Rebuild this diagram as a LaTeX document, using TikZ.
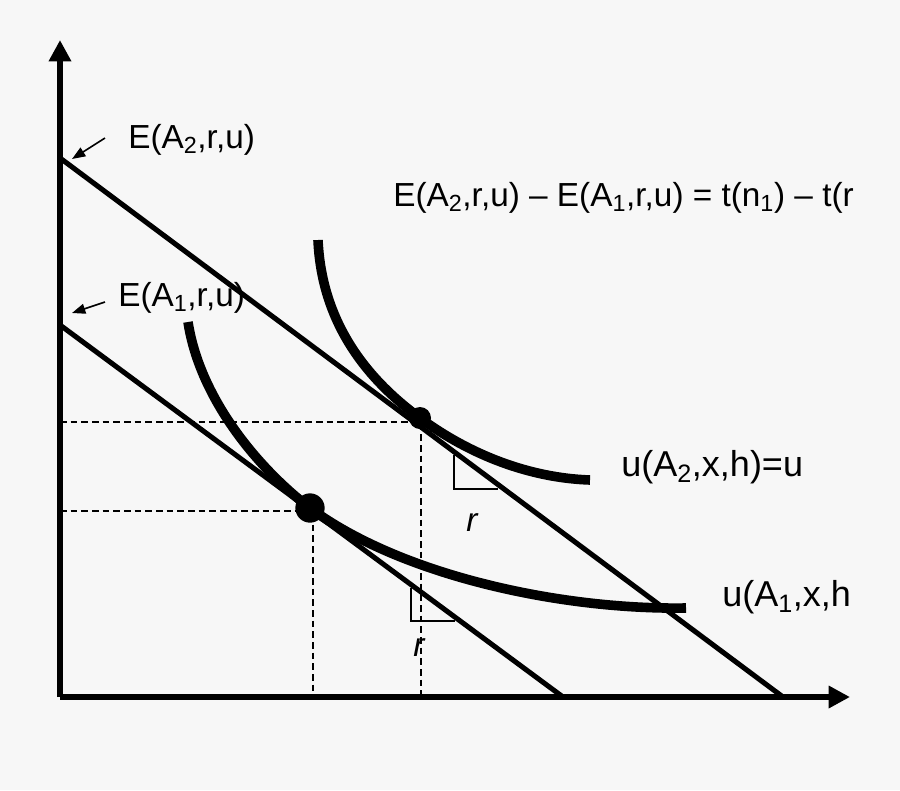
\documentclass[tikz,border=0pt]{standalone}
\usepackage{fontspec}
\setmainfont{Liberation Sans}
\usetikzlibrary{arrows.meta}
\definecolor{bgc}{HTML}{F7F7F7}
\begin{document}
\begin{tikzpicture}[x=0.75pt,y=-0.75pt,
  axis/.style={line width=4.8pt,-{Triangle[length=16pt,width=16pt]}},
  budget/.style={line width=3.8pt},
  indiff/.style={line width=7.2pt},
  guide/.style={line width=1.1pt,dash pattern=on 5pt off 3pt},
  rangle/.style={line width=1.2pt},
  pointer/.style={line width=1.2pt,-{Triangle[length=10pt,width=7.5pt]}},
  lbl/.style={font=\fontsize{25}{28}\selectfont,inner sep=0pt},
  ulbl/.style={font=\fontsize{27}{30}\selectfont,inner sep=0pt},
  rlbl/.style={font=\fontsize{25}{28}\selectfont\itshape,inner sep=0pt},
  dot/.style={circle,fill=black,inner sep=0pt}]
\fill[bgc] (0,0) rectangle (900,790);
\useasboundingbox (0,0) rectangle (900,790);
% coordinates
\coordinate (O) at (60,697);
\coordinate (ytop) at (60,40);
\coordinate (xend) at (850,697);
\coordinate (y2) at (60,158);
\coordinate (x2) at (783,697);
\coordinate (y1) at (60,325);
\coordinate (x1) at (563,697);
% budget lines
\draw[budget] (y2) -- (x2);
\draw[budget] (y1) -- (x1);
% axes
\draw[axis] (O) -- (ytop);
\draw[axis] (O) -- (xend);
% tangency points and dashed guides
\node[dot,minimum size=16.5pt] (d2) at (420,418) {};
\node[dot,minimum size=22pt] (d1) at (310,508) {};
\draw[guide] (60,422) -- (421,422) -- (421,697);
\draw[guide] (60,511) -- (313,511) -- (313,697);
% indifference curves
\draw[indiff] (318,240) .. controls (322,330) and (375,385) .. (d2.center)
  .. controls (470,455) and (530,478) .. (590,480);
\draw[indiff] (188,322) .. controls (200,400) and (260,470) .. (d1.center)
  .. controls (400,575) and (560,610) .. (686,608);
% right-angle marks
\draw[rangle] (454,455) -- (454,489) -- (498,489);
\draw[rangle] (411,588) -- (411,621) -- (455,621);
\node[rlbl] (r2) at (472,523) {r};
\node[rlbl] (r1) at (419,648) {r};
% labels
\node[lbl,anchor=west] (eA2) at (128,140) {E(A\textsubscript{2},r,u)};
\node[lbl,anchor=west] (eA1) at (118,298) {E(A\textsubscript{1},r,u)};
\node[lbl,anchor=west] (eq) at (393,198) {E(A\textsubscript{2},r,u) – E(A\textsubscript{1},r,u) = t(n\textsubscript{1}) – t(r};
\node[ulbl,anchor=west] (u2) at (621,467) {u(A\textsubscript{2},x,h)=u};
\node[ulbl,anchor=west] (u1) at (722,597) {u(A\textsubscript{1},x,h};
% pointers
\coordinate (p2) at (72,159);
\coordinate (p1) at (72,313);
\draw[pointer] (105,138) -- (p2);
\draw[pointer] (105,302) -- (p1);
\end{tikzpicture}
\end{document}
